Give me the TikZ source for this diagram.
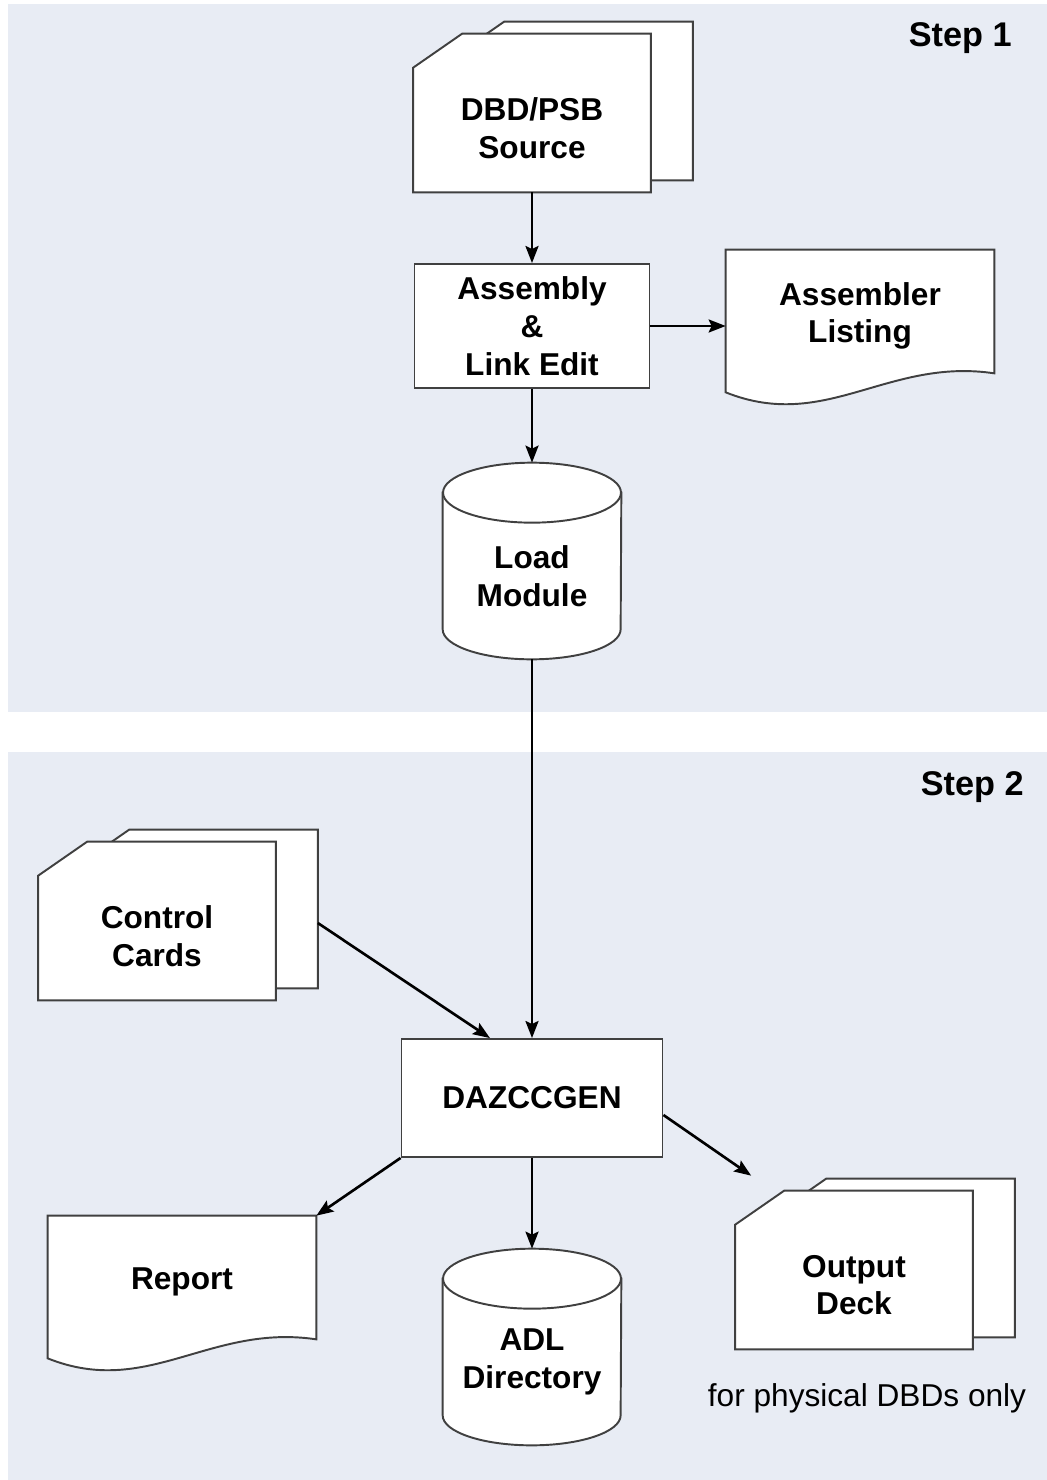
\documentclass[tikz,border=0pt]{standalone}
\usepackage{fontspec}
\setmainfont{Liberation Sans}
\usetikzlibrary{arrows.meta, calc, positioning}

\definecolor{panelbg}{RGB}{232,236,244}
\definecolor{edgegray}{RGB}{64,64,64}

\pgfdeclarelayer{panels}
\pgfdeclarelayer{shapes}
\pgfsetlayers{panels,shapes,main}

\tikzset{
  lbl/.style={align=center, inner sep=0pt, font=\bfseries\fontsize{18}{21.5}\selectfont},
  steplbl/.style={inner sep=0pt, font=\bfseries\fontsize{19.5}{23}\selectfont},
  procbox/.style={lbl, draw=edgegray, fill=white, line width=1.1pt},
  deckbox/.style={lbl, minimum width=4.74cm, minimum height=2.56cm},
  docbox/.style={lbl, minimum width=5.36cm, minimum height=2.64cm},
  dbbox/.style={lbl, minimum width=3.56cm, minimum height=3.32cm},
  outline/.style={draw=edgegray, fill=white, line width=1.1pt},
  flow/.style={-{Stealth[length=0.34cm, width=0.26cm, inset=0.06cm]}, line width=1.5pt}
}

% card deck: front card with cut corner, second card behind it
\newcommand{\drawdeck}[1]{%
  \draw[outline] ($(#1.north west)+(42,-8)$) -- ($(#1.north west)+(91,-42)$)
    -- ($(#1.north east)+(42,-42)$) -- ($(#1.south east)+(42,-12)$)
    -- ($(#1.south west)+(42,-12)$) -- cycle;
  \draw[outline] ($(#1.north west)+(0,4)$) -- ($(#1.north west)+(49,-30)$)
    -- ($(#1.north east)+(0,-30)$) -- (#1.south east) -- (#1.south west) -- cycle;
}
% printed document with wavy bottom
\newcommand{\drawdoc}[1]{%
  \draw[outline] ($(#1.south west)+(0,10)$) -- (#1.north west) -- (#1.north east)
    -- ($(#1.south east)+(0,-9)$) .. controls +(-107,-16) and +(100,40) .. ($(#1.south west)+(0,10)$) -- cycle;
}
% disk store
\newcommand{\drawdb}[1]{%
  \draw[outline] (#1.north west) -- ($(#1.south west)+(0,-30)$)
    arc[start angle=180, end angle=360, x radius=1.78cm, y radius=0.6cm] -- (#1.north east) -- cycle;
  \draw[outline] (#1.north) ellipse [x radius=1.78cm, y radius=0.6cm];
}

\begin{document}
\begin{tikzpicture}[x=0.02cm, y=-0.02cm]
    \useasboundingbox (0,0) rectangle (1047,1480);

    % Panels
    \begin{pgfonlayer}{panels}
        \fill[panelbg] (8,4) rectangle (1047,712);
        \fill[panelbg] (8,752) rectangle (1047,1480);
    \end{pgfonlayer}
    \node[steplbl, anchor=east] (step1) at (1012,38) {Step 1};
    \node[steplbl, anchor=east] (step2) at (1024,787) {Step 2};

    % Nodes
    \node[deckbox] (src) at (532,128) {DBD/PSB\\Source};
    \node[procbox, minimum width=4.7cm, minimum height=2.48cm] (asm) at (532,326) {Assembly\\\&\\Link Edit};
    \node[docbox] (listing) at (860,316) {Assembler\\Listing};
    \node[dbbox] (loadmod) at (532,576) {Load\\Module};
    \node[deckbox] (cards) at (157,936) {Control\\Cards};
    \node[procbox, minimum width=5.22cm, minimum height=2.36cm] (dazccgen) at (532,1098) {DAZCCGEN};
    \node[docbox] (report) at (182,1282) {Report};
    \node[dbbox] (adl) at (532,1362) {ADL\\Directory};
    \node[deckbox] (outdeck) at (854,1285) {Output\\Deck};
    \node[font=\fontsize{18}{21.5}\selectfont] (note) at (867,1398) {for physical DBDs only};

    \begin{pgfonlayer}{shapes}
        \foreach \n in {src, cards, outdeck} {\drawdeck{\n}}
        \foreach \n in {listing, report} {\drawdoc{\n}}
        \foreach \n in {loadmod, adl} {\drawdb{\n}}
    \end{pgfonlayer}

    % Connections
    \draw[flow] (src.south) -- (asm.north);
    \draw[flow] (asm.east) -- (asm.east -| listing.west);
    \draw[flow] (asm.south) -- ($(loadmod.north)+(0,-30)$);
    \draw[flow] (loadmod.south) -- (dazccgen.north);
    \draw[flow] ($(cards.east)+(42,-13)$) -- ($(dazccgen.north west)!0.34!(dazccgen.north east)$);
    \draw[flow] (dazccgen.south west) -- (report.north east);
    \draw[flow] (dazccgen.south) -- ($(adl.north)+(0,-30)$);
    \draw[flow] ($(dazccgen.east)+(0,17)$) -- ($(outdeck.north west)+(16,-45)$);
\end{tikzpicture}
\end{document}
